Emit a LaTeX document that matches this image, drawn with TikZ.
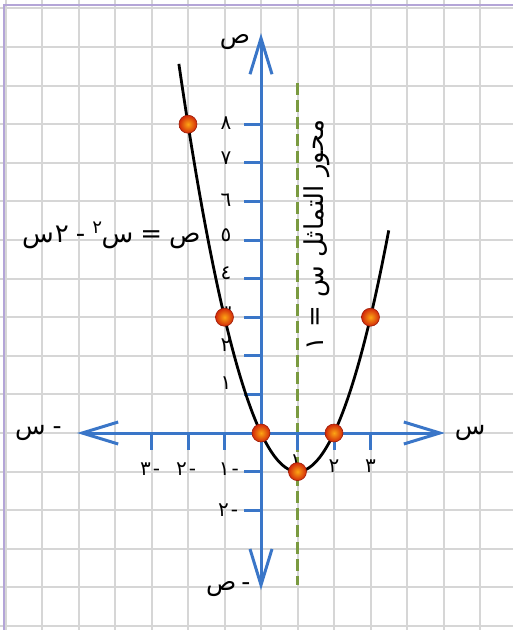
\documentclass[tikz,border=0pt]{standalone}
\usepackage{fontspec}
\TeXXeTstate=1
\newfontfamily\arabicfont[Script=Arabic]{DejaVu Sans}
\usetikzlibrary{arrows.meta}
\definecolor{axisblue}{RGB}{58,118,200}
\definecolor{gridgray}{RGB}{214,214,214}
\definecolor{symgreen}{RGB}{122,154,64}
\definecolor{framelav}{RGB}{180,165,215}
\definecolor{ptin}{RGB}{252,165,20}
\definecolor{ptout}{RGB}{210,40,10}
\tikzset{
  gridline/.style={draw=gridgray, line width=2pt},
  framerule/.style={draw=framelav, line width=1.6pt},
  barb/.tip={Straight Barb[length=36pt,width=22pt]},
  axisline/.style={draw=axisblue, line width=3pt},
  tickmark/.style={draw=axisblue, line width=3pt},
  curveline/.style={draw=black, line width=2.8pt},
  symline/.style={draw=symgreen, line width=3pt, dash pattern=on 12pt off 5pt},
  dot/.style={circle, minimum size=18pt, inner sep=0pt, shading=radial,
    inner color=ptin, outer color=ptout, draw=ptout!75!black, line width=0.6pt},
  numlbl/.style={font=\arabicfont\fontsize{20}{20}\selectfont, inner sep=0pt},
  axlbl/.style={font=\arabicfont\fontsize{25}{25}\selectfont, inner sep=0pt},
  eqlbl/.style={font=\arabicfont\fontsize{26}{26}\selectfont, inner sep=0pt},
  symlbl/.style={font=\arabicfont\fontsize{26}{26}\selectfont, inner sep=0pt},
}
\begin{document}
\begin{tikzpicture}[x=1pt,y=-1pt]
\useasboundingbox (0,0) rectangle (513,630);
\begin{scope}[shift={(261,433)},x=36.5pt,y=38.6pt]
  % grid
  \foreach \k in {-7,...,6} \draw[gridline] (\k,-5.12) -- (\k,11.22);
  \foreach \k in {-5,...,11} \draw[gridline] (-7.15,\k) -- (6.9,\k);
  % frame
  \coordinate (fb) at (-7.04,-5.12);
  \coordinate (fc) at (-7.04,11.09);
  \coordinate (fr) at (6.9,11.09);
  \draw[framerule] (fb) -- (fc) -- (fr);
  % axis of symmetry
  \coordinate (st) at (1,9.07);
  \coordinate (sb) at (1,-3.94);
  \draw[symline] (st) -- (sb);
  % axes
  \coordinate (xl) at (-5.04,0);
  \coordinate (xr) at (5.04,0);
  \coordinate (yt) at (0,10.36);
  \coordinate (yb) at (0,-4.07);
  \draw[axisline, barb-barb] (xl) -- (xr);
  \draw[axisline, barb-barb] (yb) -- (yt);
  % ticks
  \foreach \i in {-3,-2,-1,1,2,3} \draw[tickmark] (\i,0) -- ++(0,-17pt);
  \foreach \j in {-2,-1,1,2,3,4,5,6,7,8} \draw[tickmark] (0,\j) -- ++(-17pt,0);
  % y labels
  \node[numlbl] (y1) at (-0.96,1.3) {١};
  \node[numlbl] (y2) at (-0.96,2.28) {٢};
  \node[numlbl] (y3) at (-0.96,3.1) {٣};
  \node[numlbl] (y4) at (-0.96,4.15) {٤};
  \node[numlbl] (y5) at (-0.96,5.13) {٥};
  \node[numlbl] (y6) at (-0.96,6.04) {٦};
  \node[numlbl] (y7) at (-0.96,7.12) {٧};
  \node[numlbl] (y8) at (-0.96,8.03) {٨};
  \node[numlbl] (ym2) at (-0.9,-2) {٢\kern2pt-};
  % x labels
  \node[numlbl] (xm1) at (-0.88,-0.93) {١\kern2pt-};
  \node[numlbl] (xm2) at (-2.05,-0.93) {٢\kern2pt-};
  \node[numlbl] (xm3) at (-3.04,-0.93) {٣\kern2pt-};
  \node[numlbl] (x1) at (0.95,-0.73) {١};
  \node[numlbl] (x2) at (2,-0.85) {٢};
  \node[numlbl] (x3) at (3,-0.85) {٣};
  % parabola
  \draw[curveline] plot[domain=-2.25:3.5, samples=80, smooth] (\x,{\x*\x-2*\x});
  % points
  \node[dot] (pa) at (-2,8) {};
  \node[dot] (pb) at (-1,3) {};
  \node[dot] (pc) at (0,0) {};
  \node[dot] (pd) at (1,-1) {};
  \node[dot] (pe) at (2,0) {};
  \node[dot] (pf) at (3,3) {};
  % axis names
  \node[axlbl] (ny) at (-0.71,10.13) {ص};
  \node[axlbl] (nym) at (-0.9,-4.04) {ص\kern5pt-};
  \node[axlbl] (nx) at (5.73,0) {س};
  \node[axlbl] (nxm) at (-6.1,0) {س\kern7pt-};
  % equation
  \node[eqlbl] (eq) at (-4.1,5.13) {س\kern1pt٢\kern7pt-\kern7pt\textsuperscript{٢}\kern-1ptس\kern7pt=\kern7ptص};
  % symmetry label
  \node[symlbl, rotate=90] (symlab) at (1.53,5.13) {\beginR محور التماثل س = ١\endR};
\end{scope}
\end{tikzpicture}
\end{document}
